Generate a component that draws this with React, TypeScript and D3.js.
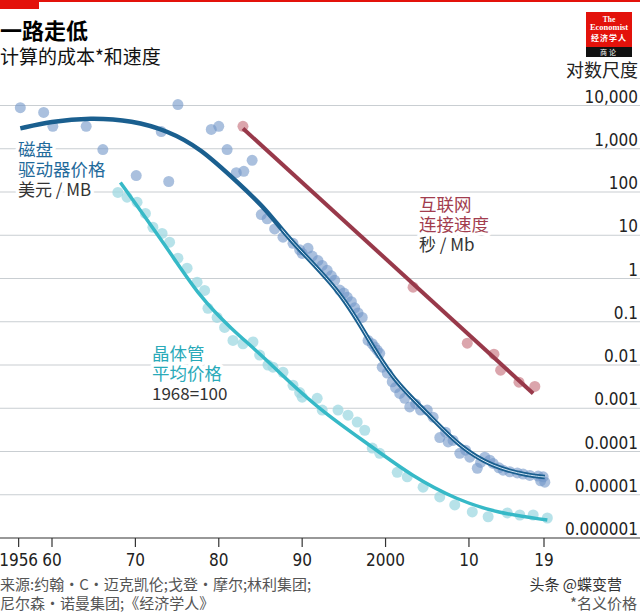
import React from "react";
import * as d3 from "d3";

// ---------- data ----------
const diskYears = [1956.2, 1959.0, 1960.1, 1964.1, 1966.1, 1970.1, 1973.1, 1974.0, 1975.1, 1979.1, 1980.0, 1981.0, 1982.1, 1983.0, 1984.0, 1985.1, 1985.8, 1986.7, 1987.7, 1988.9, 1989.7, 1990.0, 1990.7, 1991.2, 1991.9, 1992.4, 1993.0, 1993.5, 1993.9, 1994.5, 1995.0, 1995.4, 1995.9, 1996.3, 1996.7, 1997.2, 1997.9, 1998.4, 1998.7, 1999.0, 1999.3, 1999.6, 2000.2, 2000.8, 2001.2, 2001.7, 2002.3, 2002.9, 2003.6, 2004.2, 2005.0, 2005.7, 2006.5, 2007.2, 2007.5, 2008.1, 2008.9, 2009.6, 2010.1, 2011.0, 2011.4, 2011.9, 2012.5, 2012.9, 2013.6, 2014.1, 2014.9, 2015.8, 2016.5, 2017.3, 2018.3, 2018.6, 2018.9, 2019.1];
const diskPrices = [8900, 6900, 3300, 3300, 960, 240, 2500, 175, 10500, 2800, 3300, 960, 280, 300, 540, 30, 24, 14, 9, 6.5, 4.6, 3.8, 5, 3.3, 2.6, 2.0, 1.55, 1.15, 0.91, 0.54, 0.46, 0.37, 0.29, 0.21, 0.16, 0.126, 0.037, 0.031, 0.026, 0.022, 0.0186, 0.0089, 0.0065, 0.0041, 0.003, 0.0022, 0.0017, 0.00107, 0.00126, 0.00091, 0.00091, 0.00062, 0.00021, 0.00028, 0.000166, 0.00018, 0.000091, 0.000107, 0.000074, 0.000041, 0.000056, 0.000074, 0.000063, 0.000053, 0.000042, 0.000037, 0.000034, 0.000032, 0.00003, 0.000028, 0.000027, 0.000021, 0.000026, 0.0000195];

const diskFitYears = [1956.2, 1959.8, 1964.6, 1969.7, 1973.8, 1977.7, 1982.5, 1985.8, 1988.5, 1994.5, 1997.8, 2000.9, 2005.0, 2008.9, 2012.9, 2017.0, 2019.1];
const diskFitValues = [2950, 4270, 5250, 4470, 2630, 1070, 151, 38, 7.6, 0.54, 0.044, 0.0045, 0.00078, 0.000126, 0.0000437, 0.0000282, 0.0000257];

const transYears = [1967.9, 1969.0, 1970.2, 1971.2, 1972.1, 1973.2, 1974.1, 1975.1, 1976.2, 1977.4, 1978.3, 1978.7, 1979.8, 1980.7, 1981.7, 1982.9, 1984.1, 1984.9, 1985.9, 1986.5, 1987.7, 1988.9, 1989.7, 1990.0, 1991.8, 1992.4, 1994.3, 1995.5, 1996.6, 1997.5, 1998.4, 1999.3, 2001.4, 2002.6, 2004.5, 2006.5, 2008.3, 2010.4, 2012.3, 2014.6, 2016.1, 2017.7, 2019.4];
const transPrices = [98, 76, 58, 32, 15.3, 11, 6.9, 2.95, 1.73, 0.82, 0.53, 0.205, 0.126, 0.074, 0.037, 0.031, 0.034, 0.017, 0.01, 0.0089, 0.0068, 0.0034, 0.0023, 0.0018, 0.0017, 0.00091, 0.00091, 0.00069, 0.00048, 0.00031, 0.00012, 0.000091, 0.000033, 0.000026, 0.000015, 0.0000089, 0.0000058, 0.000004, 0.0000031, 0.0000038, 0.0000034, 0.0000034, 0.0000029];

const transFitYears = [1968.2, 1973.8, 1977.7, 1981.7, 1984.9, 1988.2, 1992.5, 1998.1, 2003.3, 2008.6, 2013.4, 2019.4];
const transFitValues = [166, 5.2, 0.37, 0.063, 0.0186, 0.0045, 0.00081, 0.00014, 0.0000257, 0.0000076, 0.0000038, 0.0000026];

const netYears = [1982.9, 2003.3, 2009.8, 2013.0, 2013.8, 2016.0, 2017.9];
const netSeconds = [3300, 0.63, 0.032, 0.0178, 0.0076, 0.004, 0.0032];
const netFitYears = [1982.9, 2017.7];
const netFitValues = [2950, 0.0022];

const yTicks = [10000, 1000, 100, 10, 1, 0.1, 0.01, 0.001, 0.0001, 0.00001, 0.000001];
const yTickLabels = ["10,000", "1,000", "100", "10", "1", "0.1", "0.01", "0.001", "0.0001", "0.00001", "0.000001"];
const xTicks = [1956, 1960, 1970, 1980, 1990, 2000, 2010, 2019];
const xTickLabels = ["1956", "60", "70", "80", "90", "2000", "10", "19"];

const NUM_FONT = "'Liberation Sans Narrow', 'DejaVu Sans Condensed', 'Roboto', 'Noto Sans CJK SC', sans-serif";
const CJK_FONT = "'Noto Sans CJK SC', 'Noto Sans', sans-serif";

const W = 640;
const H = 612;

function Halo(props: any) {
  const { children, ...rest } = props;
  return (
    <text stroke="#fff" strokeWidth={7} strokeLinejoin="round" paintOrder="stroke" {...rest}>
      {children}
    </text>
  );
}

export default function App() {
  const x = d3.scaleLinear().domain([1960, 2019]).range([52, 544]);
  const y = d3.scaleLog().domain([1e-6, 1e4]).range([538, 105.5]);

  const smooth = d3
    .line<[number, number]>()
    .x((d) => x(d[0]))
    .y((d) => y(d[1]))
    .curve(d3.curveBasis);
  const straight = d3
    .line<[number, number]>()
    .x((d) => x(d[0]))
    .y((d) => y(d[1]));

  const zip = (a: number[], b: number[]) => a.map((v, i) => [v, b[i]] as [number, number]);
  const diskFit = zip(diskFitYears, diskFitValues);
  const transFit = zip(transFitYears, transFitValues);
  const netFit = zip(netFitYears, netFitValues);

  return (
    <svg width={W} height={H} style={{ position: "absolute", left: 0, top: 0, background: "#fff" }}>
      <defs>
        <clipPath id="lateClip">
          <rect x={x(1987.5)} y={0} width={W} height={H} />
        </clipPath>
      </defs>
      {/* top red rule */}
      <rect x={0} y={0} width={W} height={2} fill="#E3120B" />
      <rect x={0} y={0} width={39} height={9} fill="#E3120B" />

      {/* titles */}
      <text x={0} y={39} fontFamily={CJK_FONT} fontWeight={700} fontSize={22} fill="#000">一路走低</text>
      <text x={0} y={64} fontFamily={CJK_FONT} fontSize={19} fill="#111">计算的成本*和速度</text>

      {/* logo */}
      <rect x={586} y={12} width={46} height={35} fill="#E3120B" />
      <rect x={586} y={47} width={46} height={10} fill="#111" />
      <text x={609} y={22} textAnchor="middle" fontFamily="'Liberation Serif', serif" fontWeight={700} fontSize={7.5} fill="#fff">The</text>
      <text x={609} y={30} textAnchor="middle" fontFamily="'Liberation Serif', serif" fontWeight={700} fontSize={8.5} fill="#fff">Economist</text>
      <text x={609} y={41} textAnchor="middle" fontFamily={CJK_FONT} fontWeight={700} fontSize={8} letterSpacing={1} fill="#fff">经济学人</text>
      <text x={609} y={55} textAnchor="middle" fontFamily={CJK_FONT} fontSize={7} letterSpacing={2} fill="#fff">商论</text>

      <text x={638} y={77} textAnchor="end" fontFamily={CJK_FONT} fontSize={18} fill="#222">对数尺度</text>

      {/* gridlines */}
      {yTicks.slice(0, -1).map((t) => (
        <line key={t} x1={0} x2={W} y1={y(t)} y2={y(t)} stroke="#c9ced2" strokeWidth={1.2} />
      ))}
      <line x1={0} x2={W} y1={y(1e-6)} y2={y(1e-6)} stroke="#333" strokeWidth={1.2} />
      {yTicks.map((t, i) => (
        <text key={t} x={638} y={y(t) - 3} textAnchor="end" fontFamily={NUM_FONT} fontSize={17} fill="#222">
          {yTickLabels[i]}
        </text>
      ))}

      {/* x axis */}
      {xTicks.map((t, i) => (
        <g key={t}>
          <line x1={x(t)} x2={x(t)} y1={538} y2={547} stroke="#333" strokeWidth={1.2} />
          <text x={x(t)} y={566} textAnchor="middle" fontFamily={NUM_FONT} fontSize={17} fill="#222">
            {xTickLabels[i]}
          </text>
        </g>
      ))}

      {/* points */}
      <g>
        {diskYears.map((d, i) => (
          <circle key={"d" + i} cx={x(d)} cy={y(diskPrices[i])} r={5.5} fill="#7196c8" fillOpacity={0.6} />
        ))}
        {transYears.map((d, i) => (
          <circle key={"t" + i} cx={x(d)} cy={y(transPrices[i])} r={5.5} fill="#9fd8e2" fillOpacity={0.75} />
        ))}
        {netYears.map((d, i) => (
          <circle key={"n" + i} cx={x(d)} cy={y(netSeconds[i])} r={5.5} fill="#cf8790" fillOpacity={0.75} />
        ))}
      </g>

      {/* fitted lines */}
      <path d={straight(netFit) || ""} fill="none" stroke="#98394a" strokeWidth={4} />
      <path d={smooth(transFit) || ""} fill="none" stroke="#36b9c7" strokeWidth={3.5} />
      <path d={smooth(diskFit) || ""} fill="none" stroke="#1a5f8f" strokeWidth={4.5} />
      <path d={smooth(diskFit) || ""} fill="none" stroke="#cfe4f3" strokeWidth={1} clipPath="url(#lateClip)" />

      {/* series labels */}
      <g fontFamily={CJK_FONT} fontSize={17.5}>
        <Halo x={18} y={156} fill="#1f6a9b">磁盘</Halo>
        <Halo x={18} y={176} fill="#1f6a9b">驱动器价格</Halo>
        <Halo x={18} y={196} fill="#333" fontSize={17}>美元 / MB</Halo>

        <Halo x={152} y={360} fill="#2aaab9">晶体管</Halo>
        <Halo x={152} y={380} fill="#2aaab9">平均价格</Halo>
        <Halo x={152} y={400} fill="#333" fontSize={17}>1968=100</Halo>

        <Halo x={419} y={211} fill="#a23d4e">互联网</Halo>
        <Halo x={419} y={231} fill="#a23d4e">连接速度</Halo>
        <Halo x={419} y={251} fill="#333" fontSize={17}>秒 / Mb</Halo>
      </g>

      {/* footer */}
      <g fontFamily={CJK_FONT} fontSize={15} fill="#555">
        <text x={0} y={590}>来源:约翰·C·迈克凯伦;戈登·摩尔;林利集团;</text>
        <text x={0} y={609}>尼尔森·诺曼集团;《经济学人》</text>
        <text x={622} y={590} textAnchor="end" fill="#333">头条 @蝶变营</text>
        <text x={637} y={609} textAnchor="end">*名义价格</text>
      </g>
    </svg>
  );
}
